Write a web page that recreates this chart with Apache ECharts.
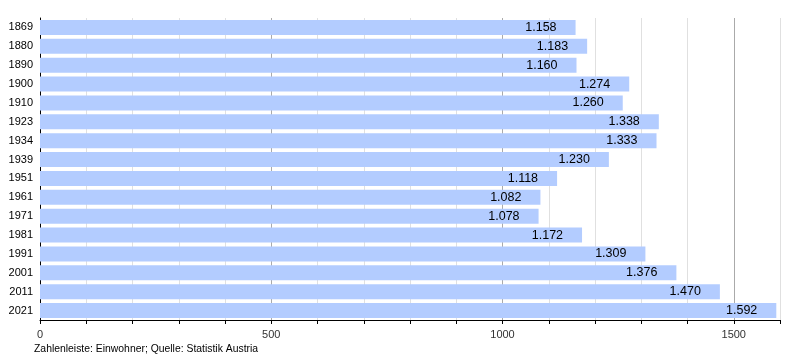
<!DOCTYPE html>
<html><head><meta charset="utf-8">
<script src="https://cdn.jsdelivr.net/npm/echarts@6/dist/echarts.min.js"></script>
<style>html,body{margin:0;padding:0;background:#fff}#c{width:800px;height:360px}</style>
</head><body><div id="c"></div>
<script>
const years = ['1869','1880','1890','1900','1910','1923','1934','1939','1951','1961','1971','1981','1991','2001','2011','2021'];
const population = [1158,1183,1160,1274,1260,1338,1333,1230,1118,1082,1078,1172,1309,1376,1470,1592];
const xTicks = [0,500,1000,1500];
const footer = 'Zahlenleiste: Einwohner; Quelle: Statistik Austria';

const fmt = v => { const s = String(v); return s.length > 3 ? s.slice(0, s.length-3) + '.' + s.slice(-3) : s; };
const chart = echarts.init(document.getElementById('c'));
chart.setOption({
  animation: false,
  textStyle: { fontFamily: 'Liberation Sans, Arial, sans-serif' },
  grid: { left: 40, right: 20, top: 18, bottom: 40, containLabel: false },
  xAxis: {
    type: 'value', min: 0, max: 1600, interval: 100,
    axisLine: { show: true, lineStyle: { color: '#000', width: 1 } },
    axisTick: { show: true, length: 4, lineStyle: { color: '#000' } },
    axisLabel: { color: '#333', fontSize: 11, margin: 9,
      formatter: v => xTicks.includes(v) ? String(v) : '' },
    splitLine: { show: true, lineStyle: { color: ['#aaaaaa','#e0e0e0','#e0e0e0','#e0e0e0','#e0e0e0'], width: 1 } }
  },
  yAxis: {
    type: 'category', data: years, inverse: true,
    axisLine: { show: true, lineStyle: { color: '#000', width: 1 } },
    axisTick: { show: false },
    axisLabel: { color: '#000', fontSize: 11, margin: 7 }
  },
  series: [{
    type: 'bar', data: population, barCategoryGap: '21%',
    itemStyle: { color: '#b3ccff' },
    label: { show: true, position: 'insideRight', distance: 19, color: '#000', fontSize: 12.5,
      formatter: p => fmt(p.value) }
  }],
  graphic: [{ type: 'text', left: 34, top: 344,
    style: { text: footer, fontSize: 10.4, fill: '#000', fontFamily: 'Liberation Sans, Arial, sans-serif' } }]
});
</script></body></html>
